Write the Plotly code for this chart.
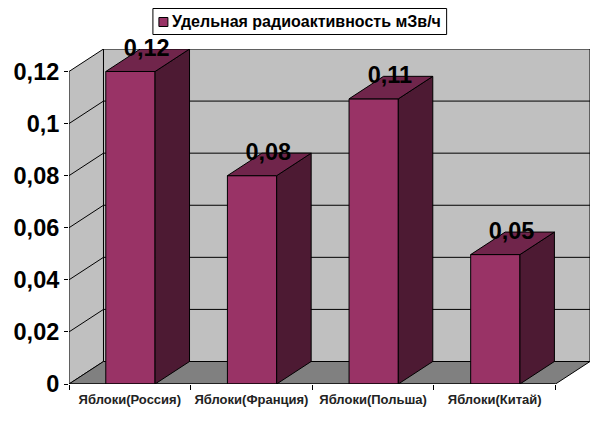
import plotly.graph_objects as go

categories = ["Яблоки(Россия)", "Яблоки(Франция)", "Яблоки(Польша)", "Яблоки(Китай)"]
values = [0.12, 0.08, 0.1095, 0.0497]
value_labels = ["0,12", "0,08", "0,11", "0,05"]
y_ticks = [0, 0.02, 0.04, 0.06, 0.08, 0.1, 0.12]
series_name = "Удельная радиоактивность мЗв/ч"

FONT = "Liberation Sans"
FRONT, SIDE, TOP = "#993366", "#4d1a33", "#70254b"
WALL, FLOOR = "#c0c0c0", "#808080"
W, H = 595, 421
ML, MR, MT, MB = 68.5, 5, 49, 37
UNIT_X = 121.7            # px per category
UNIT_Y = 52.08 / 0.02     # px per value unit
DX, DY = 34.5 / UNIT_X, 22.5 / UNIT_Y   # oblique depth in data units
BAR_W = 0.405
N = len(categories)
YMAX = max(y_ticks)
centers = [i + 0.505 for i in range(N)]
label_x = [i + 0.5 for i in range(N)]


def poly(pts, fill, line=1):
    path = "M" + " L".join(f"{x},{y}" for x, y in pts) + " Z"
    return dict(type="path", path=path, xref="x", yref="y", layer="below",
                fillcolor=fill, line=dict(color="black", width=line))


def seg(x0, y0, x1, y1):
    return dict(type="line", x0=x0, y0=y0, x1=x1, y1=y1, xref="x", yref="y",
                layer="below", line=dict(color="black", width=1))


def px(x):
    return (x - ML) / (W - ML - MR)


def py(y):
    return (H - MB - y) / (H - MT - MB)


shapes = [
    poly([(DX, DY), (N + DX, DY), (N + DX, YMAX + DY), (DX, YMAX + DY)], WALL),
    poly([(0, 0), (DX, DY), (DX, YMAX + DY), (0, YMAX)], WALL),
    poly([(0, 0), (N, 0), (N + DX, DY), (DX, DY)], FLOOR),
]
for t in y_ticks[1:-1]:
    shapes.append(seg(0, t, DX, t + DY))
    shapes.append(seg(DX, t + DY, N + DX, t + DY))

# legend box and swatch, laid out as in the reference
shapes.append(dict(type="rect", xref="paper", yref="paper", layer="above",
                   x0=px(152.5), x1=px(446.5), y0=py(34.5), y1=py(8.5),
                   fillcolor="white", line=dict(color="black", width=1)))
shapes.append(dict(type="rect", xref="paper", yref="paper", layer="above",
                   x0=px(158.5), x1=px(167.5), y0=py(26.5), y1=py(17.5),
                   fillcolor=FRONT, line=dict(color="black", width=1)))

fig = go.Figure()
fig.add_trace(go.Bar(
    x=centers, y=values, width=BAR_W, name=series_name,
    marker=dict(color=FRONT, line=dict(color="black", width=1)),
))
for c, v in zip(centers, values):
    l, r = c - BAR_W / 2, c + BAR_W / 2
    fig.add_trace(go.Scatter(
        x=[r, r + DX, r + DX, r, r], y=[0, DY, v + DY, v, 0],
        mode="lines", fill="toself", fillcolor=SIDE,
        line=dict(color="black", width=1), hoverinfo="skip"))
    fig.add_trace(go.Scatter(
        x=[l, r, r + DX, l + DX, l], y=[v, v, v + DY, v + DY, v],
        mode="lines", fill="toself", fillcolor=TOP,
        line=dict(color="black", width=1), hoverinfo="skip",
        cliponaxis=False))
# front edge of the floor
fig.add_trace(go.Scatter(
    x=[0, N], y=[0, 0], mode="lines", line=dict(color="black", width=1),
    hoverinfo="skip", cliponaxis=False))
# value labels, sitting on the back edge of each bar's top
fig.add_trace(go.Scatter(
    x=[c + DX / 2 - 0.008 for c in centers], y=[v + DY - 0.0003 for v in values],
    mode="text", text=value_labels, textposition="middle center",
    textfont=dict(family=FONT, size=23.5, color="black", weight="bold"),
    hoverinfo="skip", cliponaxis=False))

fig.update_layout(
    width=W, height=H, autosize=False,
    margin=dict(l=ML, r=MR, t=MT, b=MB, pad=0),
    paper_bgcolor="white", plot_bgcolor="white",
    separators=", ",
    shapes=shapes,
    showlegend=False,
    annotations=[dict(
        text=series_name, xref="paper", yref="paper",
        x=px(170), y=py(22), xanchor="left", yanchor="middle", showarrow=False,
        font=dict(family=FONT, size=16, color="black", weight="bold"),
    )],
    xaxis=dict(
        range=[0, N + DX], showgrid=False, zeroline=False, showline=False,
        tickmode="array", tickvals=label_x, ticktext=categories,
        ticks="", ticklabelstandoff=6,
        tickfont=dict(family=FONT, size=13, color="#222222", weight="bold"),
        minor=dict(tickmode="array", tickvals=list(range(N + 1)), ticks="outside", ticklen=5,
                   tickcolor="black", tickwidth=1, showgrid=False),
        fixedrange=True,
    ),
    yaxis=dict(
        range=[0, YMAX + DY], showgrid=False, zeroline=False, showline=False,
        tickmode="array", tickvals=y_ticks, ticks="outside", ticklen=4,
        tickcolor="black", tickwidth=1,
        tickfont=dict(family=FONT, size=23.5, color="black", weight="bold"),
        fixedrange=True,
    ),
)
fig.write_html("out.html", post_script="document.body.style.margin='0';",
               config={"displayModeBar": False})
